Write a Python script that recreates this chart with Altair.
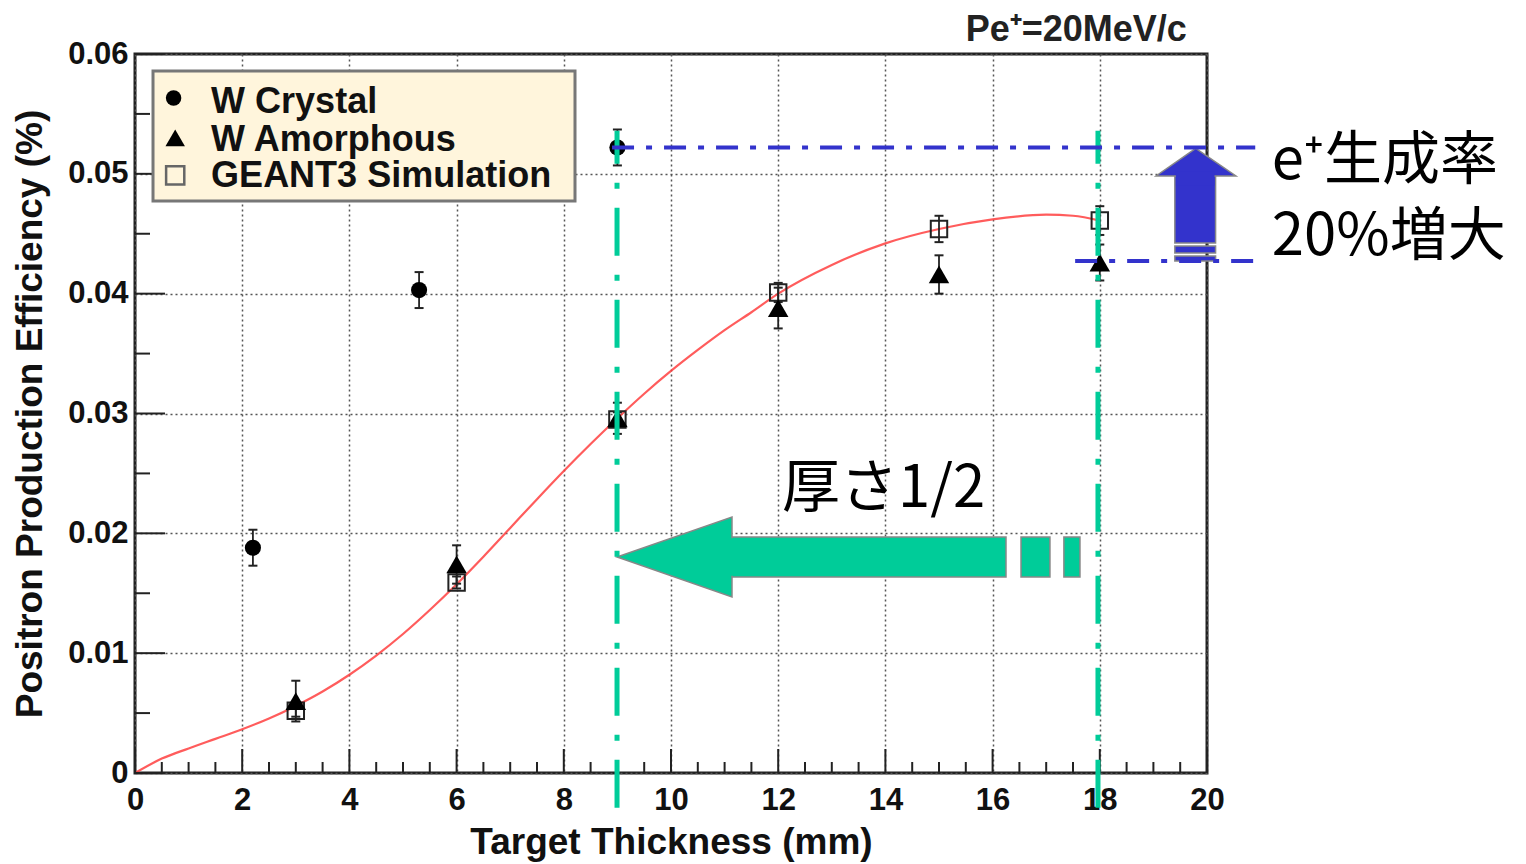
import altair as alt
import pandas as pd

# ---------------- data ----------------
crys_x = [2.2, 5.3, 9.0]
crys_y = [0.0188, 0.0403, 0.0522]
crys_e = [0.0015, 0.0015, 0.0015]

amor_x = [3, 6, 9, 12, 15, 18]
amor_y = [0.0060, 0.0174, 0.0296, 0.0388, 0.0416, 0.0426]
amor_e = [0.0017, 0.0016, 0.0013, 0.0017, 0.0016, 0.0015]

sim_x = [3, 6, 9, 12, 15, 18]
sim_y = [0.0052, 0.0159, 0.0295, 0.0401, 0.0454, 0.0461]
sim_e = [0.0005, 0.0005, 0.0006, 0.0008, 0.0011, 0.0012]

fit_x = [0, 0.5, 1.0, 1.5, 2.0, 2.5, 3.0, 3.5, 4.0, 4.5, 5.0, 5.5, 6.0, 6.5, 7.0,
         7.5, 8.0, 8.5, 9.0, 9.5, 10.0, 10.5, 11.0, 11.5, 12.0, 13.0, 14.0, 15.0,
         16.0, 17.0, 17.5, 18.0]
fit_y = [0, 0.0012, 0.00205, 0.00285, 0.00365, 0.00455, 0.0056, 0.0068, 0.0082, 0.0098,
         0.0116, 0.0136, 0.01575, 0.01805, 0.02045, 0.02285, 0.0252, 0.02745, 0.0296,
         0.03165, 0.03355, 0.0353, 0.03695, 0.03845, 0.0400, 0.0424, 0.0442, 0.0454,
         0.0462, 0.0466, 0.0465, 0.0461]

legend_labels = ["W Crystal", "W Amorphous", "GEANT3 Simulation"]

x_major = [0, 2, 4, 6, 8, 10, 12, 14, 16, 18, 20]
x_minor = [v / 2 for v in range(0, 41) if v % 4 != 0]
y_major = [0, 0.01, 0.02, 0.03, 0.04, 0.05, 0.06]
y_minor = [0.005, 0.015, 0.025, 0.035, 0.045, 0.055]

title_text = "Pe⁺=20MeV/c"
ann_thick = "厚さ1/2"
ann_rate1 = "e⁺生成率"
ann_rate2 = "20%増大"

# annotation geometry in data units
green_lines_x = [8.993, 17.966]
green_lines_y = [-0.0029, 0.0536]
blue_lines = [  # x, x2, y
    (8.90, 20.90, 0.0522),
    (17.54, 20.90, 0.04273),
]
green_head = [(8.993, 0.018025, 0.018025), (11.138, 0.021363, 0.014687)]
green_rects = [(11.138, 16.25), (16.53, 17.07), (17.33, 17.63)]
green_rect_y = (0.016356, 0.019694)
blue_head = [(0.04982, 19.05, 20.54), (0.05213, 19.79, 19.79)]
blue_rects = [(19.40, 20.16, 0.04423, 0.04982), (19.40, 20.16, 0.04339, 0.04398),
              (19.40, 20.16, 0.04273, 0.04314)]

# ---------------- chart ----------------
W, H = 1072, 719
FONT = "Liberation Sans"
JP = "Noto Sans CJK JP"

xscale = alt.Scale(domain=[0, 20], nice=False, zero=False)
yscale = alt.Scale(domain=[0, 0.06], nice=False, zero=False)

xaxis = alt.Axis(title="Target Thickness (mm)", values=x_major, grid=True,
                 gridDash=[2, 3], gridColor="#555", gridWidth=1.5, ticks=False, tickSize=0,
                 domain=False, labelFont=FONT, labelFontWeight="bold", labelFontSize=31,
                 labelColor="#111", labelPadding=12, labelFlush=False, labelOverlap=False,
                 titleFont=FONT, titleFontSize=37, titleFontWeight="bold", titleColor="#111",
                 titlePadding=9)
yaxis = alt.Axis(title="Positron Production Efficiency (%)", values=y_major, grid=True,
                 gridDash=[2, 3], gridColor="#555", gridWidth=1.5, ticks=False, tickSize=0,
                 domain=False, labelFont=FONT, labelFontWeight="bold", labelFontSize=31,
                 labelColor="#111", labelPadding=7, labelFlush=False, labelOverlap=False,
                 labelExpr="datum.value == 0 ? '0' : format(datum.value, '.2f')",
                 titleFont=FONT, titleFontSize=37, titleFontWeight="bold", titleColor="#111",
                 titlePadding=18)


def X(f):
    return alt.X(f, type="quantitative", scale=xscale, axis=xaxis)


def Y(f):
    return alt.Y(f, type="quantitative", scale=yscale, axis=yaxis)


layers = []

# base (axes + grid) with fit curve
fit_df = pd.DataFrame({"x": fit_x, "y": fit_y})
layers.append(alt.Chart(fit_df).mark_line(color="#ff4040", strokeWidth=2.2, interpolate="monotone",
                                          opacity=0.85).encode(x=X("x"), y=Y("y")))

# inward ticks
layers.append(alt.Chart(pd.DataFrame({"x": x_major})).mark_rule(color="#222", strokeWidth=2)
              .encode(x=X("x"), y=alt.value(H), y2=alt.value(H - 24)))
layers.append(alt.Chart(pd.DataFrame({"x": x_minor})).mark_rule(color="#222", strokeWidth=2)
              .encode(x=X("x"), y=alt.value(H), y2=alt.value(H - 11)))
layers.append(alt.Chart(pd.DataFrame({"y": y_major})).mark_rule(color="#222", strokeWidth=2)
              .encode(y=Y("y"), x=alt.value(0), x2=alt.value(30)))
layers.append(alt.Chart(pd.DataFrame({"y": y_minor})).mark_rule(color="#222", strokeWidth=2)
              .encode(y=Y("y"), x=alt.value(0), x2=alt.value(15)))


def errbars(xs, ys, es):
    df = pd.DataFrame({"x": xs, "lo": [a - b for a, b in zip(ys, es)],
                       "hi": [a + b for a, b in zip(ys, es)]})
    caps = pd.DataFrame({"x": list(xs) * 2, "y": list(df["lo"]) + list(df["hi"])})
    r = alt.Chart(df).mark_rule(color="#222", strokeWidth=1.8).encode(
        x=X("x"), y=Y("lo"), y2=alt.Y2("hi"))
    c = alt.Chart(caps).mark_tick(orient="horizontal", size=9, thickness=2, color="#222",
                                  opacity=1).encode(x=X("x"), y=Y("y"))
    return [r, c]


layers += errbars(sim_x, sim_y, sim_e)
layers += errbars(amor_x, amor_y, amor_e)
layers += errbars(crys_x, crys_y, crys_e)

layers.append(alt.Chart(pd.DataFrame({"x": sim_x, "y": sim_y})).mark_point(
    shape="square", size=270, filled=False, stroke="#222", strokeWidth=2, opacity=1)
    .encode(x=X("x"), y=Y("y")))
layers.append(alt.Chart(pd.DataFrame({"x": amor_x, "y": amor_y})).mark_point(
    shape="triangle-up", size=420, filled=True, color="#000", opacity=1)
    .encode(x=X("x"), y=Y("y")))
layers.append(alt.Chart(pd.DataFrame({"x": crys_x, "y": crys_y})).mark_point(
    shape="circle", size=260, filled=True, color="#000", opacity=1)
    .encode(x=X("x"), y=Y("y")))

# legend box
leg_box = pd.DataFrame({"x": [0.336], "x2": [8.209], "y": [0.04773], "y2": [0.05858]})
layers.append(alt.Chart(leg_box).mark_rect(fill="#fff5dc", stroke="#777", strokeWidth=3)
              .encode(x=X("x"), x2="x2", y=Y("y"), y2="y2"))
leg_sym = pd.DataFrame({"x": [0.72, 0.75, 0.75], "y": [0.05633, 0.05300, 0.04987]})
layers.append(alt.Chart(leg_sym.iloc[[0]]).mark_point(shape="circle", size=240, filled=True,
                                                     color="#000", opacity=1)
              .encode(x=X("x"), y=Y("y")))
layers.append(alt.Chart(leg_sym.iloc[[1]]).mark_point(shape="triangle-up", size=380, filled=True,
                                                     color="#000", opacity=1)
              .encode(x=X("x"), y=Y("y")))
layers.append(alt.Chart(leg_sym.iloc[[2]]).mark_point(shape="square", size=330, filled=False,
                                                     stroke="#666", strokeWidth=2.5, opacity=1)
              .encode(x=X("x"), y=Y("y")))
leg_txt = pd.DataFrame({"x": [1.42] * 3, "y": [0.05600, 0.05283, 0.04985], "t": legend_labels})
layers.append(alt.Chart(leg_txt).mark_text(align="left", baseline="middle", font=FONT,
                                           fontWeight="bold", fontSize=36, color="#111")
              .encode(x=X("x"), y=Y("y"), text="t"))

# green arrow (left)
gh = pd.DataFrame(green_head, columns=["x", "y", "y2"])
gr = pd.DataFrame([(a, b, green_rect_y[0], green_rect_y[1]) for a, b in green_rects],
                  columns=["x", "x2", "y", "y2"])
layers.append(alt.Chart(gr).mark_rect(fill="#00cc99", stroke="#888", strokeWidth=1.5)
              .encode(x=X("x"), x2="x2", y=Y("y"), y2="y2"))
layers.append(alt.Chart(gh).mark_area(fill="#00cc99", stroke="#888", strokeWidth=1.5, opacity=1)
              .encode(x=X("x"), y=Y("y"), y2="y2"))
gcover = pd.DataFrame({"x": [11.0], "x2": [11.4], "y": [green_rect_y[0] + 0.0001],
                       "y2": [green_rect_y[1] - 0.0001]})
layers.append(alt.Chart(gcover).mark_rect(fill="#00cc99", strokeWidth=0)
              .encode(x=X("x"), x2="x2", y=Y("y"), y2="y2"))

# blue arrow (up)
bh = pd.DataFrame(blue_head, columns=["y", "x", "x2"])
br = pd.DataFrame(blue_rects, columns=["x", "x2", "y", "y2"])
layers.append(alt.Chart(br).mark_rect(fill="#3333cc", stroke="#888", strokeWidth=1.5)
              .encode(x=X("x"), x2="x2", y=Y("y"), y2="y2"))
layers.append(alt.Chart(bh).mark_area(orient="horizontal", fill="#3333cc", stroke="#888",
                                      strokeWidth=1.5, opacity=1)
              .encode(y=Y("y"), x=X("x"), x2="x2"))
bcover = pd.DataFrame({"x": [19.40 + 0.02], "x2": [20.16 - 0.02], "y": [0.0490], "y2": [0.0502]})
layers.append(alt.Chart(bcover).mark_rect(fill="#3333cc", strokeWidth=0)
              .encode(x=X("x"), x2="x2", y=Y("y"), y2="y2"))

# dash-dot guide lines
gl = pd.DataFrame({"x": green_lines_x, "y": [green_lines_y[0]] * 2, "y2": [green_lines_y[1]] * 2})
layers.append(alt.Chart(gl).mark_rule(color="#00cc99", strokeWidth=5, strokeDash=[48, 19, 6, 19])
              .encode(x=X("x"), y=Y("y"), y2="y2"))
bl = pd.DataFrame(blue_lines, columns=["x", "x2", "y"])
layers.append(alt.Chart(bl).mark_rule(color="#3333cc", strokeWidth=4, strokeDash=[22, 12, 6, 12])
              .encode(x=X("x"), x2="x2", y=Y("y")))

# texts
layers.append(alt.Chart(pd.DataFrame({"x": [17.56], "y": [0.0620], "t": [title_text]}))
              .mark_text(align="center", baseline="middle", font=FONT, fontWeight="bold",
                         fontSize=36, color="#222")
              .encode(x=X("x"), y=Y("y"), text="t"))
jp = pd.DataFrame({"x": [12.07, 21.21, 21.21], "y": [0.02362, 0.05099, 0.04465],
                   "t": [ann_thick, ann_rate1, ann_rate2]})
layers.append(alt.Chart(jp).mark_text(align="left", baseline="middle", font=JP, fontSize=58,
                                      color="#000")
              .encode(x=X("x"), y=Y("y"), text="t"))

chart = alt.layer(*layers).properties(
    width=W, height=H,
    autosize=alt.AutoSizeParams(type="none"),
    padding={"left": 127, "top": 46, "right": 310, "bottom": 94},
    background="white",
).configure_view(stroke="#222", strokeWidth=3)

chart.save("out.html", embed_options={"renderer": "svg", "actions": False})
